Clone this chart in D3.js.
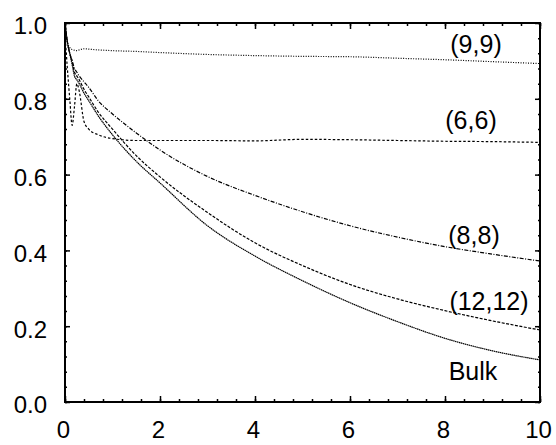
<!DOCTYPE html>
<html>
<head>
<meta charset="utf-8">
<script src="https://cdn.jsdelivr.net/npm/d3@7"></script>
<style>
  body { margin: 0; background: #fff; }
  svg text { font-family: "Liberation Sans", Arial, sans-serif; fill: #000; }
</style>
</head>
<body>
<div id="chart"></div>
<script>
const width = 556
const height = 445
const margin = {top: 23, right: 16, bottom: 43, left: 65}

// time grid shared by every curve
const times = [0, 0.05, 0.1, 0.15, 0.2, 0.25, 0.3, 0.4, 0.5, 0.7, 1, 1.5, 2, 3, 4, 5, 6, 7, 8, 9, 10]

const s99   = [1.0, 0.95, 0.935, 0.93, 0.928, 0.927, 0.929, 0.932, 0.931, 0.929, 0.927, 0.925, 0.922, 0.917, 0.914, 0.912, 0.911, 0.907, 0.903, 0.898, 0.893]
const s66   = [0.97, 0.88, 0.80, 0.73, 0.78, 0.84, 0.82, 0.74, 0.72, 0.705, 0.695, 0.69, 0.69, 0.69, 0.689, 0.693, 0.692, 0.69, 0.688, 0.687, 0.685]
const s88   = [1.0, 0.95, 0.92, 0.90, 0.88, 0.87, 0.86, 0.845, 0.83, 0.795, 0.76, 0.71, 0.665, 0.595, 0.545, 0.502, 0.465, 0.435, 0.41, 0.39, 0.372]
const s1212 = [1.0, 0.95, 0.92, 0.90, 0.87, 0.86, 0.85, 0.825, 0.805, 0.765, 0.72, 0.65, 0.594, 0.50, 0.42, 0.36, 0.31, 0.272, 0.241, 0.214, 0.19]
const sBulk = [1.0, 0.95, 0.92, 0.89, 0.86, 0.85, 0.84, 0.815, 0.795, 0.755, 0.705, 0.635, 0.578, 0.465, 0.385, 0.32, 0.262, 0.212, 0.168, 0.135, 0.111]

const xTickLabels = [0, 2, 4, 6, 8, 10]
const yTickLabels = [0.0, 0.2, 0.4, 0.6, 0.8, 1.0]

const series = [
  {name: "(9,9)",   values: s99,   dash: "1,1.5",         lx: 476, ly: 53},
  {name: "(6,6)",   values: s66,   dash: "2.5,2",         lx: 471, ly: 129},
  {name: "(8,8)",   values: s88,   dash: "4,1.5,1,1.5",   lx: 474, ly: 244},
  {name: "(12,12)", values: s1212, dash: "3,1.5",         lx: 489, ly: 310},
  {name: "Bulk",    values: sBulk, dash: "1.5,0.5",       lx: 473, ly: 380}
]

const innerW = width - margin.left - margin.right
const innerH = height - margin.top - margin.bottom

const svg = d3.select("#chart")
  .append("svg")
    .attr("width", width)
    .attr("height", height)

const g = svg.append("g")
    .attr("transform", "translate(" + margin.left + "," + margin.top + ")")

const x = d3.scaleLinear().domain([0, 10]).range([0, innerW])
const y = d3.scaleLinear().domain([0, 1]).range([innerH, 0])

const minorX = d3.range(0, 10.001, 0.4)
const minorY = d3.range(0, 1.0001, 0.04)

function tickAxis(axis, vals, size, fmt) {
  return axis.tickValues(vals).tickSizeInner(size).tickSizeOuter(0).tickPadding(8).tickFormat(fmt)
}

// minor ticks (inward, all four sides)
g.append("g").attr("transform", "translate(0," + innerH + ")")
  .call(tickAxis(d3.axisBottom(x), minorX, -3, ""))
g.append("g")
  .call(tickAxis(d3.axisTop(x), minorX, -3, ""))
g.append("g")
  .call(tickAxis(d3.axisLeft(y), minorY, -2, ""))
g.append("g").attr("transform", "translate(" + innerW + ",0)")
  .call(tickAxis(d3.axisRight(y), minorY, -2, ""))

// major ticks with labels
const xAxis = g.append("g").attr("transform", "translate(0," + innerH + ")")
  .call(tickAxis(d3.axisBottom(x), xTickLabels, -6, d3.format("d")))
xAxis.selectAll("text").attr("font-size", 24).attr("y", 36).attr("dy", 0).attr("dx", -2)
g.append("g")
  .call(tickAxis(d3.axisTop(x), xTickLabels, -6, ""))
const yAxis = g.append("g")
  .call(tickAxis(d3.axisLeft(y), yTickLabels, -5, d3.format(".1f")))
yAxis.selectAll("text").attr("font-size", 24).attr("x", -18).attr("dy", "0.45em")
g.append("g").attr("transform", "translate(" + innerW + ",0)")
  .call(tickAxis(d3.axisRight(y), yTickLabels, -5, ""))

g.selectAll(".domain").remove()
g.selectAll(".tick line").attr("stroke", "#000").attr("stroke-width", 1.5)

// curves
const line = d3.line()
  .x((d, i) => x(times[i]))
  .y(d => y(d))
  .curve(d3.curveMonotoneX)

g.selectAll(".curve")
  .data(series)
  .enter()
  .append("path")
    .attr("class", "curve")
    .attr("d", d => line(d.values))
    .attr("fill", "none")
    .attr("stroke", "#000")
    .attr("stroke-width", 1.2)
    .attr("stroke-dasharray", d => d.dash)

// curve labels
svg.selectAll(".lbl")
  .data(series)
  .enter()
  .append("text")
    .attr("class", "lbl")
    .attr("x", d => d.lx)
    .attr("y", d => d.ly)
    .attr("text-anchor", "middle")
    .attr("font-size", 25)
    .text(d => d.name)

// frame
g.append("rect")
  .attr("width", innerW)
  .attr("height", innerH)
  .attr("fill", "none")
  .attr("stroke", "#000")
  .attr("stroke-width", 2)
</script>
</body>
</html>
